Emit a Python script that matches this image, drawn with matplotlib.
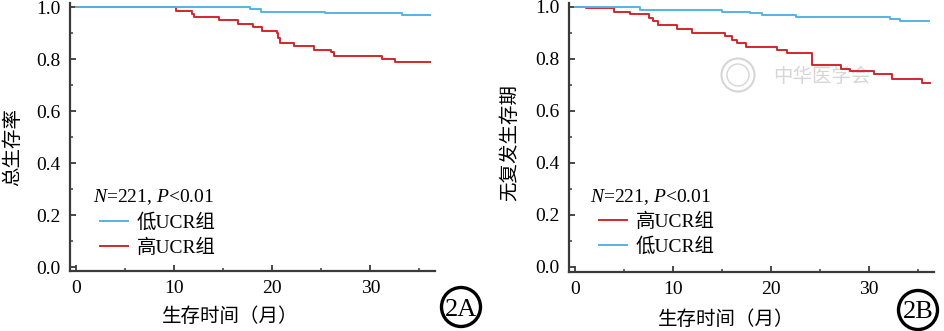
import matplotlib.pyplot as plt
from matplotlib.patches import Ellipse
from matplotlib.ticker import MultipleLocator, FormatStrFormatter

plt.rcParams['font.family'] = ['Liberation Serif', 'Noto Sans CJK SC']
plt.rcParams['mathtext.fontset'] = 'custom'
plt.rcParams['mathtext.rm'] = 'Liberation Serif'
plt.rcParams['mathtext.it'] = 'Liberation Serif:italic'

# overall survival (months, survival fraction)
os_low_t = [0, 17.7, 18.8, 25.4, 33.2, 36.1]
os_low_s = [1.0, 0.992, 0.983, 0.977, 0.971, 0.971]
os_high_t = [0, 10.2, 11.8, 12.0, 14.5, 16.5, 18.0, 18.9, 20.5, 20.6, 20.8,
             22.2, 24.2, 26.0, 26.3, 31.2, 32.5, 36.1]
os_high_s = [1.0, 0.987, 0.974, 0.964, 0.949, 0.936, 0.923, 0.910, 0.900,
             0.881, 0.864, 0.849, 0.836, 0.827, 0.813, 0.800, 0.788, 0.788]

# recurrence-free survival
rfs_low_t = [0, 6.6, 15.0, 17.9, 19.1, 22.6, 32.2, 33.2, 36.2]
rfs_low_s = [1.0, 0.988, 0.982, 0.976, 0.969, 0.962, 0.955, 0.946, 0.946]
rfs_high_t = [0, 1.1, 4.0, 5.6, 7.5, 8.0, 8.5, 10.4, 11.9, 15.3, 16.0, 16.5,
              17.5, 20.6, 21.6, 24.2, 27.2, 28.1, 30.5, 32.4, 35.4, 36.3]
rfs_high_s = [1.0, 0.995, 0.982, 0.972, 0.959, 0.946, 0.929, 0.914, 0.898,
              0.888, 0.873, 0.860, 0.847, 0.834, 0.821, 0.776, 0.762, 0.753,
              0.740, 0.721, 0.708, 0.708]

label_low = '低UCR组'
label_high = '高UCR组'
stats_text = r'$N$=221, $P$<0.01'
xlabel = '生存时间（月）'

BLUE = '#55b3e4'
RED = '#d5262b'
AXIS = '#3a3a3a'
FS = 14

fig = plt.figure(figsize=(9.45, 3.31), dpi=100)
ax1 = fig.add_axes([0.0741, 0.1822, 0.3862, 0.8078])
ax2 = fig.add_axes([0.6024, 0.1792, 0.3862, 0.8108])


def style_axes(ax, xlim, ylim):
    ax.set_xlim(*xlim)
    ax.set_ylim(*ylim)
    ax.patch.set_alpha(0)
    for side in ('top', 'right'):
        ax.spines[side].set_visible(False)
    for side in ('left', 'bottom'):
        ax.spines[side].set_color(AXIS)
        ax.spines[side].set_linewidth(1.6)
    ax.xaxis.set_major_locator(MultipleLocator(10))
    ax.xaxis.set_minor_locator(MultipleLocator(5))
    ax.yaxis.set_major_locator(MultipleLocator(0.2))
    ax.yaxis.set_minor_locator(MultipleLocator(0.1))
    ax.yaxis.set_major_formatter(FormatStrFormatter('%.1f'))
    ax.tick_params(which='major', direction='in', length=4, width=1.3,
                   color=AXIS, labelsize=FS, pad=7)
    ax.tick_params(which='minor', direction='in', length=2, width=1.1,
                   color=AXIS)


style_axes(ax1, (-0.66, 36.6), (-0.013, 1.015))
style_axes(ax2, (-0.61, 36.7), (-0.019, 1.014))

# panel A: overall survival
h1, = ax1.step(os_high_t, os_high_s, where='post', color=RED, lw=1.4)
l1, = ax1.step(os_low_t, os_low_s, where='post', color=BLUE, lw=1.4)
ax1.text(0.063, 0.2756, stats_text, transform=ax1.transAxes,
         ha='left', va='center', fontsize=FS)
ax1.legend([l1, h1], [label_low, label_high], loc='center left',
           bbox_to_anchor=(0.082, 0.134), frameon=False, borderpad=0,
           borderaxespad=0, handlelength=1.45, handletextpad=0.45,
           labelspacing=0.35, fontsize=FS)
ax1.set_ylabel('总生存率', fontsize=FS, va='center')
ax1.yaxis.set_label_coords(-0.156, 0.4626)
ax1.set_xlabel(xlabel, fontsize=FS, va='center')
ax1.xaxis.set_label_coords(0.438, -0.173)

# panel B: recurrence-free survival
h2, = ax2.step(rfs_high_t, rfs_high_s, where='post', color=RED, lw=1.4)
l2, = ax2.step(rfs_low_t, rfs_low_s, where='post', color=BLUE, lw=1.4)
ax2.text(0.057, 0.278, stats_text, transform=ax2.transAxes,
         ha='left', va='center', fontsize=FS)
ax2.legend([h2, l2], [label_high, label_low], loc='center left',
           bbox_to_anchor=(0.081, 0.14), frameon=False, borderpad=0,
           borderaxespad=0, handlelength=1.45, handletextpad=0.45,
           labelspacing=0.35, fontsize=FS)
ax2.set_ylabel('无复发生存期', fontsize=FS, va='center')
ax2.yaxis.set_label_coords(-0.1625, 0.483)
ax2.set_xlabel(xlabel, fontsize=FS, va='center')
ax2.xaxis.set_label_coords(0.431, -0.18)

W, H = 945, 331


def circled(cx, cy, text):
    fig.add_artist(Ellipse((cx / W, 1 - cy / H), 39 / W, 39 / H,
                           transform=fig.transFigure, fill=False,
                           ec='black', lw=2.4))
    fig.text(cx / W, 1 - cy / H, text, ha='center', va='center_baseline',
             fontsize=19, family='Liberation Serif')


circled(461, 307, '2A')
circled(918, 310, '2B')

# faint publisher seal behind panel B
wm = '#d6d6d6'
fig.add_artist(Ellipse((738 / W, 1 - 75 / H), 33 / W, 33 / H,
                       transform=fig.transFigure, fill=False, ec=wm,
                       lw=1.5, zorder=-1))
fig.add_artist(Ellipse((738 / W, 1 - 75 / H), 22 / W, 22 / H,
                       transform=fig.transFigure, fill=False, ec=wm,
                       lw=1.0, zorder=-1))
fig.text(822 / W, 1 - 77 / H, '中华医学会', ha='center', va='center',
         fontsize=14, color=wm, family='Noto Sans CJK SC', zorder=-1)

fig.savefig('out.png', dpi=100)
